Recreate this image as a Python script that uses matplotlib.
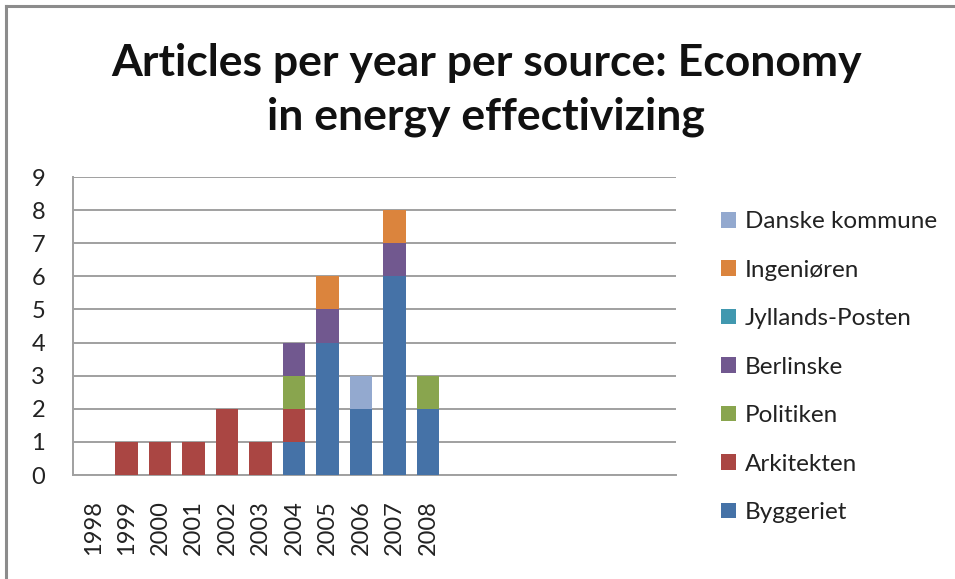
import matplotlib
matplotlib.use("Agg")
import matplotlib.pyplot as plt
from matplotlib.lines import Line2D
import numpy as np

years = ["1998", "1999", "2000", "2001", "2002", "2003", "2004", "2005", "2006", "2007", "2008"]
sources = ["Byggeriet", "Arkitekten", "Politiken", "Berlinske", "Jyllands-Posten", "Ingeniøren", "Danske kommune"]
byggeriet = [0, 0, 0, 0, 0, 0, 1, 4, 2, 6, 2]
arkitekten = [0, 1, 1, 1, 2, 1, 1, 0, 0, 0, 0]
politiken = [0, 0, 0, 0, 0, 0, 1, 0, 0, 0, 1]
berlinske = [0, 0, 0, 0, 0, 0, 1, 1, 0, 1, 0]
jyllands_posten = [0, 0, 0, 0, 0, 0, 0, 0, 0, 0, 0]
ingenioren = [0, 0, 0, 0, 0, 0, 0, 1, 0, 1, 0]
danske_kommune = [0, 0, 0, 0, 0, 0, 0, 0, 1, 0, 0]
series = [byggeriet, arkitekten, politiken, berlinske, jyllands_posten, ingenioren, danske_kommune]
colors = ["#4572A7", "#AA4643", "#89A54E", "#71588F", "#4198AF", "#DB843D", "#93A9CF"]

plt.rcParams['font.family'] = ['Lato', 'DejaVu Sans']

fig = plt.figure(figsize=(9.55, 5.79), dpi=100)
ax = fig.add_axes([0.0764, 0.1796, 0.708 - 0.0764, 0.6943 - 0.1796])

x = np.arange(len(years))
bottom = np.zeros(len(years))
handles = []
for name, vals, c in zip(sources, series, colors):
    v = np.array(vals, dtype=float)
    b = ax.bar(x, v, width=0.67, bottom=bottom, color=c, label=name, zorder=3)
    bottom += v
    handles.append(b)

ax.set_xlim(-0.6, 17.4)
ax.set_ylim(0, 9)
ax.set_yticks(range(0, 10))
ax.set_xticks(x)
ax.set_xticklabels(years, rotation=90, fontsize=17, color="#222222")
ax.tick_params(axis='x', length=0, pad=18)
ax.tick_params(axis='y', length=0, pad=20, labelsize=17, labelcolor="#222222")
ax.yaxis.grid(True, color="#A0A0A0", linewidth=1.4, zorder=0)
ax.set_axisbelow(True)
for s in ['top', 'right']:
    ax.spines[s].set_visible(False)
for s in ['left', 'bottom']:
    ax.spines[s].set_color("#A0A0A0")
    ax.spines[s].set_linewidth(1.4)

leg = fig.legend(handles[::-1], sources[::-1], loc='upper left',
                 bbox_to_anchor=(0.745, 0.652), frameon=False, fontsize=17.5,
                 handlelength=0.62, handleheight=0.62, handletextpad=0.35,
                 labelspacing=1.13, borderaxespad=0)
for t in leg.get_texts():
    t.set_color("#222222")

fig.text(0.509, 0.845, "Articles per year per source: Economy\nin energy effectivizing",
         ha='center', va='center', fontsize=32, fontweight='bold', linespacing=1.4,
         color="#111111")

fig.add_artist(Line2D([0.006, 1.0], [1 - 5.5/579, 1 - 5.5/579], transform=fig.transFigure,
                      color="#8C8C8C", linewidth=2.2))
fig.add_artist(Line2D([6/955, 6/955], [0, 1 - 5.5/579], transform=fig.transFigure,
                      color="#8C8C8C", linewidth=2.2))

fig.savefig("out.png", dpi=100)
